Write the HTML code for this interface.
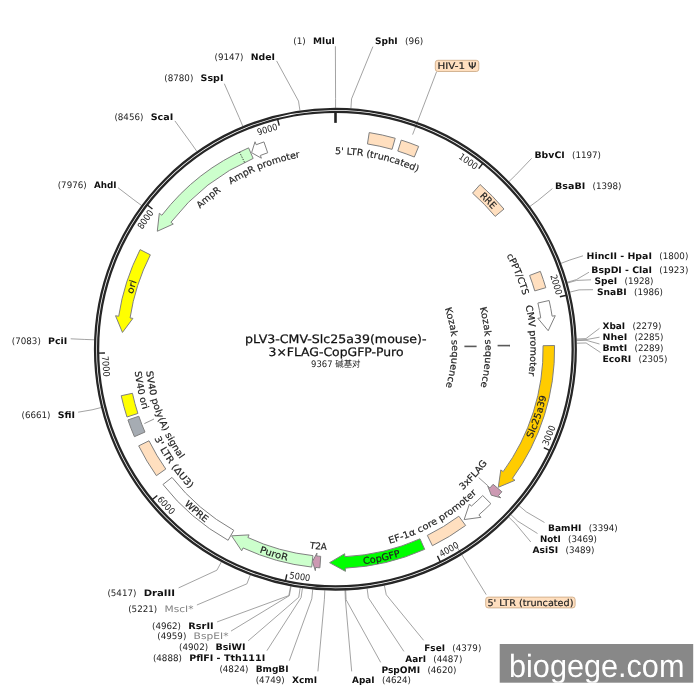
<!DOCTYPE html>
<html lang="en"><head><meta charset="utf-8"><title>pLV3-CMV-Slc25a39(mouse)-3xFLAG-CopGFP-Puro</title><style>
html,body{margin:0;padding:0;background:#fff;}
body{width:700px;height:700px;overflow:hidden;}
svg{display:block;will-change:transform;text-rendering:geometricPrecision;}
.lab{font-family:"DejaVu Sans","Liberation Sans",sans-serif;stroke:#222;stroke-width:0.18px;}
.tick{font-family:"DejaVu Sans Condensed","DejaVu Sans","Liberation Sans",sans-serif;fill:#222;}
.enz{font-family:"DejaVu Sans","Liberation Sans",sans-serif;font-size:9px;}
.ttl{font-family:"DejaVu Sans","Liberation Sans",sans-serif;fill:#111;stroke:#111;stroke-width:0.25px;}
.sub{font-family:"DejaVu Sans","Liberation Sans","Noto Sans CJK SC",sans-serif;fill:#222;}
.wm{font-family:"Liberation Sans",sans-serif;}
</style></head><body>
<svg width="700" height="700" viewBox="0 0 700 700">
<rect width="700" height="700" fill="#fff"/>
<path d="M335.56 107.80 L335.57 98.35 L335.40 46.30" fill="none" stroke="#8c8c8c" stroke-width="0.8"/>
<path d="M350.93 108.30 L351.54 98.87 L372.90 46.60" fill="none" stroke="#8c8c8c" stroke-width="0.8"/>
<path d="M509.02 181.51 L515.82 174.94 L531.60 158.40" fill="none" stroke="#8c8c8c" stroke-width="0.8"/>
<path d="M529.98 206.37 L537.60 200.78 L552.40 188.60" fill="none" stroke="#8c8c8c" stroke-width="0.8"/>
<path d="M560.99 263.36 L569.82 260.00 L583.00 255.80" fill="none" stroke="#8c8c8c" stroke-width="0.8"/>
<path d="M567.29 282.25 L576.37 279.63 L589.00 272.20" fill="none" stroke="#8c8c8c" stroke-width="0.8"/>
<path d="M567.51 283.02 L576.60 280.43 L591.00 279.80" fill="none" stroke="#8c8c8c" stroke-width="0.8"/>
<path d="M569.91 292.10 L579.09 289.87 L593.00 289.70" fill="none" stroke="#8c8c8c" stroke-width="0.8"/>
<path d="M576.54 338.99 L585.98 338.60 L599.50 328.30" fill="none" stroke="#8c8c8c" stroke-width="0.8"/>
<path d="M576.58 339.96 L586.02 339.61 L599.50 337.20" fill="none" stroke="#8c8c8c" stroke-width="0.8"/>
<path d="M576.60 340.61 L586.04 340.28 L599.50 344.00" fill="none" stroke="#8c8c8c" stroke-width="0.8"/>
<path d="M576.68 343.20 L586.12 342.97 L600.50 352.50" fill="none" stroke="#8c8c8c" stroke-width="0.8"/>
<path d="M519.09 505.70 L526.28 511.83 L544.50 522.50" fill="none" stroke="#8c8c8c" stroke-width="0.8"/>
<path d="M510.98 514.74 L517.86 521.23 L537.50 533.50" fill="none" stroke="#8c8c8c" stroke-width="0.8"/>
<path d="M508.74 517.08 L515.53 523.66 L530.80 542.00" fill="none" stroke="#8c8c8c" stroke-width="0.8"/>
<path d="M384.35 585.48 L386.27 594.74 L423.60 640.30" fill="none" stroke="#8c8c8c" stroke-width="0.8"/>
<path d="M367.12 588.41 L368.36 597.77 L403.90 651.40" fill="none" stroke="#8c8c8c" stroke-width="0.8"/>
<path d="M345.68 590.28 L346.08 599.72 L380.70 662.40" fill="none" stroke="#8c8c8c" stroke-width="0.8"/>
<path d="M345.03 590.31 L345.41 599.75 L351.70 671.40" fill="none" stroke="#8c8c8c" stroke-width="0.8"/>
<path d="M324.80 590.27 L324.38 599.71 L317.90 671.40" fill="none" stroke="#8c8c8c" stroke-width="0.8"/>
<path d="M312.69 589.43 L311.80 598.84 L289.30 660.70" fill="none" stroke="#8c8c8c" stroke-width="0.8"/>
<path d="M302.40 588.23 L301.10 597.59 L266.90 650.70" fill="none" stroke="#8c8c8c" stroke-width="0.8"/>
<path d="M300.15 587.91 L298.77 597.26 L248.20 640.80" fill="none" stroke="#8c8c8c" stroke-width="0.8"/>
<path d="M291.05 586.39 L289.32 595.68 L231.00 631.10" fill="none" stroke="#8c8c8c" stroke-width="0.8"/>
<path d="M290.57 586.30 L288.82 595.59 L217.10 621.90" fill="none" stroke="#8c8c8c" stroke-width="0.8"/>
<path d="M250.26 574.98 L246.92 583.82 L196.90 605.00" fill="none" stroke="#8c8c8c" stroke-width="0.8"/>
<path d="M221.39 561.87 L216.92 570.20 L178.60 587.90" fill="none" stroke="#8c8c8c" stroke-width="0.8"/>
<path d="M101.22 407.53 L92.05 409.82 L78.10 412.20" fill="none" stroke="#8c8c8c" stroke-width="0.8"/>
<path d="M94.23 339.80 L84.79 339.44 L70.70 338.80" fill="none" stroke="#8c8c8c" stroke-width="0.8"/>
<path d="M141.49 205.45 L133.90 199.83 L118.00 187.70" fill="none" stroke="#8c8c8c" stroke-width="0.8"/>
<path d="M196.92 151.48 L191.50 143.74 L174.90 120.90" fill="none" stroke="#8c8c8c" stroke-width="0.8"/>
<path d="M242.81 126.27 L239.18 117.54 L224.30 83.70" fill="none" stroke="#8c8c8c" stroke-width="0.8"/>
<path d="M299.91 110.42 L298.52 101.08 L276.60 60.90" fill="none" stroke="#8c8c8c" stroke-width="0.8"/>
<path d="M436.60 71.70 L412.60 134.60" fill="none" stroke="#8c8c8c" stroke-width="0.8"/>
<path d="M486.20 594.60 L456.60 546.30" fill="none" stroke="#8c8c8c" stroke-width="0.8"/>
<circle cx="335.4" cy="349.15" r="240.35" fill="none" stroke="#262626" stroke-width="2.3"/>
<circle cx="335.4" cy="349.15" r="237.3" fill="none" stroke="#262626" stroke-width="2.3"/>
<line x1="335.5" y1="111.84999999999997" x2="335.5" y2="122.84999999999997" stroke="#222" stroke-width="2.6"/>
<line x1="482.90" y1="163.26" x2="478.68" y2="168.59" stroke="#222" stroke-width="1.4"/>
<text class="tick" font-size="9.2" text-anchor="middle" textLength="20.8" lengthAdjust="spacingAndGlyphs" transform="translate(466.52 163.97) rotate(35.30)">1000</text>
<line x1="566.49" y1="295.23" x2="559.87" y2="296.77" stroke="#222" stroke-width="1.4"/>
<text class="tick" font-size="9.2" text-anchor="middle" textLength="20.8" lengthAdjust="spacingAndGlyphs" transform="translate(553.22 285.60) rotate(73.73)">2000</text>
<line x1="549.94" y1="450.56" x2="543.79" y2="447.65" stroke="#222" stroke-width="1.4"/>
<text class="tick" font-size="9.2" text-anchor="middle" textLength="20.8" lengthAdjust="spacingAndGlyphs" transform="translate(551.79 436.62) rotate(292.01)">3000</text>
<line x1="440.42" y1="561.94" x2="437.42" y2="555.85" stroke="#222" stroke-width="1.4"/>
<text class="tick" font-size="9.2" text-anchor="middle" textLength="20.8" lengthAdjust="spacingAndGlyphs" transform="translate(450.54 552.17) rotate(330.44)">4000</text>
<line x1="285.40" y1="581.12" x2="286.83" y2="574.47" stroke="#222" stroke-width="1.4"/>
<text class="tick" font-size="9.2" text-anchor="middle" textLength="20.8" lengthAdjust="spacingAndGlyphs" transform="translate(299.39 579.76) rotate(368.87)">5000</text>
<line x1="152.04" y1="499.78" x2="157.29" y2="495.47" stroke="#222" stroke-width="1.4"/>
<text class="tick" font-size="9.2" text-anchor="middle" textLength="20.8" lengthAdjust="spacingAndGlyphs" transform="translate(163.85 507.41) rotate(407.31)">6000</text>
<line x1="98.13" y1="353.17" x2="104.93" y2="353.05" stroke="#222" stroke-width="1.4"/>
<text class="tick" font-size="9.2" text-anchor="middle" textLength="20.8" lengthAdjust="spacingAndGlyphs" transform="translate(102.64 366.49) rotate(445.74)">7000</text>
<line x1="147.04" y1="204.81" x2="152.44" y2="208.95" stroke="#222" stroke-width="1.4"/>
<text class="tick" font-size="9.2" text-anchor="middle" textLength="20.8" lengthAdjust="spacingAndGlyphs" transform="translate(148.03 221.18) rotate(304.33)">8000</text>
<line x1="277.57" y1="119.00" x2="279.23" y2="125.60" stroke="#222" stroke-width="1.4"/>
<text class="tick" font-size="9.2" text-anchor="middle" textLength="20.8" lengthAdjust="spacingAndGlyphs" transform="translate(268.17 132.44) rotate(342.76)">9000</text>
<path d="M369.23 132.58 A219.20 219.20 0 0 1 395.21 138.27 L392.07 149.33 A207.70 207.70 0 0 0 367.45 143.94 Z" fill="#FFDFBF" stroke="#808080" stroke-width="1.0" stroke-linejoin="miter" />
<path d="M401.27 140.08 A219.20 219.20 0 0 1 418.68 146.39 L414.31 157.02 A207.70 207.70 0 0 0 397.81 151.05 Z" fill="#FFDFBF" stroke="#808080" stroke-width="1.0" stroke-linejoin="miter" />
<path d="M480.12 184.51 A219.20 219.20 0 0 1 503.98 209.04 L495.14 216.39 A207.70 207.70 0 0 0 472.52 193.15 Z" fill="#FFDFBF" stroke="#808080" stroke-width="1.0" stroke-linejoin="miter" />
<path d="M540.34 271.37 A219.20 219.20 0 0 1 545.80 287.68 L534.77 290.90 A207.70 207.70 0 0 0 529.59 275.45 Z" fill="#FFDFBF" stroke="#808080" stroke-width="1.0" stroke-linejoin="miter" />
<path d="M549.13 300.49 A219.20 219.20 0 0 1 552.11 316.18 L555.27 315.70 L548.20 330.73 L537.87 318.34 L540.74 317.91 A207.70 207.70 0 0 0 537.92 303.04 Z" fill="#FFFFFF" stroke="#808080" stroke-width="1.0" stroke-linejoin="miter" />
<path d="M554.57 345.51 A219.20 219.20 0 0 1 512.43 478.42 L515.01 480.30 L498.34 487.27 L500.80 469.92 L503.14 471.63 A207.70 207.70 0 0 0 543.07 345.70 Z" fill="#FFCC00" stroke="#808080" stroke-width="1.0" stroke-linejoin="miter" />
<path d="M501.85 491.78 A219.20 219.20 0 0 1 498.45 495.65 L500.83 497.79 L491.28 495.18 L487.74 486.03 L489.90 487.96 A207.70 207.70 0 0 0 493.11 484.30 Z" fill="#CC99B2" stroke="#808080" stroke-width="1.0" stroke-linejoin="miter" />
<path d="M490.88 503.67 A219.20 219.20 0 0 1 478.86 514.88 L480.96 517.30 L464.15 519.58 L469.44 504.00 L471.33 506.19 A207.70 207.70 0 0 0 482.72 495.56 Z" fill="#FFFFFF" stroke="#808080" stroke-width="1.0" stroke-linejoin="miter" />
<path d="M465.64 525.46 A219.20 219.20 0 0 1 432.41 545.71 L427.32 535.40 A207.70 207.70 0 0 0 458.81 516.21 Z" fill="#FFDFBF" stroke="#808080" stroke-width="1.0" stroke-linejoin="miter" />
<path d="M424.70 549.34 A219.20 219.20 0 0 1 345.32 568.13 L345.46 571.32 L329.60 562.67 L344.67 553.74 L344.80 556.64 A207.70 207.70 0 0 0 420.01 538.83 Z" fill="#00FF00" stroke="#808080" stroke-width="1.0" stroke-linejoin="miter" />
<path d="M319.90 567.80 A219.20 219.20 0 0 1 315.63 567.46 L315.34 570.64 L312.45 561.51 L316.93 553.12 L316.67 556.00 A207.70 207.70 0 0 0 320.71 556.33 Z" fill="#CC99B2" stroke="#808080" stroke-width="1.0" stroke-linejoin="miter" />
<path d="M311.70 567.07 A219.20 219.20 0 0 1 243.02 547.93 L241.68 550.84 L231.60 535.83 L249.09 534.88 L247.87 537.51 A207.70 207.70 0 0 0 312.94 555.63 Z" fill="#CCFFCC" stroke="#808080" stroke-width="1.0" stroke-linejoin="miter" />
<path d="M228.11 540.30 A219.20 219.20 0 0 1 162.99 484.51 L172.03 477.41 A207.70 207.70 0 0 0 233.74 530.27 Z" fill="#FFFFFF" stroke="#808080" stroke-width="1.0" stroke-linejoin="miter" />
<path d="M156.40 475.67 A219.20 219.20 0 0 1 138.69 445.87 L149.01 440.79 A207.70 207.70 0 0 0 165.79 469.03 Z" fill="#FFDFBF" stroke="#808080" stroke-width="1.0" stroke-linejoin="miter" />
<path d="M134.43 436.66 A219.20 219.20 0 0 1 127.95 419.94 L138.83 416.23 A207.70 207.70 0 0 0 144.97 432.07 Z" fill="#A6ACB3" stroke="#808080" stroke-width="1.0" stroke-linejoin="miter" />
<path d="M126.97 417.01 A219.20 219.20 0 0 1 121.21 395.73 L132.44 393.29 A207.70 207.70 0 0 0 137.90 413.45 Z" fill="#FFFF00" stroke="#808080" stroke-width="1.0" stroke-linejoin="miter" />
<path d="M140.11 249.61 A219.20 219.20 0 0 0 118.69 316.23 L115.52 315.75 L122.45 332.44 L132.92 318.39 L130.06 317.96 A207.70 207.70 0 0 1 150.35 254.83 Z" fill="#FFFF00" stroke="#808080" stroke-width="1.0" stroke-linejoin="miter" />
<path d="M248.60 147.87 A219.20 219.20 0 0 0 161.86 215.24 L159.32 213.29 L157.29 231.24 L173.26 224.04 L170.96 222.27 A207.70 207.70 0 0 1 253.15 158.43 Z" fill="#CCFFCC" stroke="#808080" stroke-width="1.0" stroke-linejoin="miter" />
<line x1="244.54" y1="162.38" x2="239.51" y2="152.04" stroke="#222" stroke-width="0.9" stroke-dasharray="1.3 1.3"/>
<path d="M263.95 141.92 A219.20 219.20 0 0 0 256.19 144.76 L255.03 141.78 L251.60 152.67 L261.39 158.19 L260.35 155.48 A207.70 207.70 0 0 1 267.70 152.79 Z" fill="#FFFFFF" stroke="#808080" stroke-width="1.0" stroke-linejoin="miter" />
<path id="p1" d="M305.06 156.53 A195.00 195.00 0 0 1 443.46 186.83" fill="none"/>
<text class="lab" font-size="9.3" fill="#222" ><textPath href="#p1" startOffset="50%" text-anchor="middle" textLength="85" lengthAdjust="spacingAndGlyphs">5' LTR (truncated)</textPath></text>
<path id="p2" d="M456.14 177.27 A210.05 210.05 0 0 1 510.56 233.21" fill="none"/>
<text class="lab" font-size="9.3" fill="#222" ><textPath href="#p2" startOffset="50%" text-anchor="middle" textLength="18.5" lengthAdjust="spacingAndGlyphs">RRE</textPath></text>
<path id="p3" d="M490.14 230.49 A195.00 195.00 0 0 1 528.85 324.65" fill="none"/>
<text class="lab" font-size="9.3" fill="#222" ><textPath href="#p3" startOffset="50%" text-anchor="middle" textLength="43" lengthAdjust="spacingAndGlyphs">cPPT/CTS</textPath></text>
<path id="p4" d="M516.63 277.18 A195.00 195.00 0 0 1 522.22 405.05" fill="none"/>
<text class="lab" font-size="9.3" fill="#222" ><textPath href="#p4" startOffset="50%" text-anchor="middle" textLength="70.4" lengthAdjust="spacingAndGlyphs">CMV promoter</textPath></text>
<path id="p5" d="M468.53 280.03 A150.00 150.00 0 0 1 470.18 415.00" fill="none"/>
<text class="lab" font-size="9.3" fill="#222" ><textPath href="#p5" startOffset="50%" text-anchor="middle" textLength="80" lengthAdjust="spacingAndGlyphs">Kozak sequence</textPath></text>
<path id="p6" d="M430.68 282.12 A116.50 116.50 0 0 1 432.29 413.83" fill="none"/>
<text class="lab" font-size="9.3" fill="#222" ><textPath href="#p6" startOffset="50%" text-anchor="middle" textLength="80" lengthAdjust="spacingAndGlyphs">Kozak sequence</textPath></text>
<path id="p7" d="M517.84 465.07 A216.15 216.15 0 0 0 550.85 366.48" fill="none"/>
<text class="lab" font-size="9.3" fill="#222" ><textPath href="#p7" startOffset="50%" text-anchor="middle" textLength="45" lengthAdjust="spacingAndGlyphs">Slc25a39</textPath></text>
<path id="p8" d="M439.02 508.41 A190.00 190.00 0 0 0 503.39 437.91" fill="none"/>
<text class="lab" font-size="9.3" fill="#222" ><textPath href="#p8" startOffset="50%" text-anchor="middle" textLength="36.5" lengthAdjust="spacingAndGlyphs">3xFLAG</textPath></text>
<path id="p9" d="M360.27 549.51 A201.90 201.90 0 0 0 496.57 470.76" fill="none"/>
<text class="lab" font-size="9.3" fill="#222" ><textPath href="#p9" startOffset="50%" text-anchor="middle" textLength="101.7" lengthAdjust="spacingAndGlyphs">EF-1α core promoter</textPath></text>
<path id="p10" d="M333.60 565.99 A216.85 216.85 0 0 0 428.48 545.01" fill="none"/>
<text class="lab" font-size="9.3" fill="#222" ><textPath href="#p10" startOffset="50%" text-anchor="middle" textLength="38" lengthAdjust="spacingAndGlyphs">CopGFP</textPath></text>
<path id="p11" d="M280.11 542.40 A201.00 201.00 0 0 0 356.65 549.02" fill="none"/>
<text class="lab" font-size="9.3" fill="#222" ><textPath href="#p11" startOffset="50%" text-anchor="middle" textLength="17.3" lengthAdjust="spacingAndGlyphs">T2A</textPath></text>
<path id="p12" d="M232.07 539.80 A216.85 216.85 0 0 0 316.72 565.19" fill="none"/>
<text class="lab" font-size="9.3" fill="#222" ><textPath href="#p12" startOffset="50%" text-anchor="middle" textLength="29" lengthAdjust="spacingAndGlyphs">PuroR</textPath></text>
<path id="p13" d="M164.03 482.03 A216.85 216.85 0 0 0 230.40 538.89" fill="none"/>
<text class="lab" font-size="9.3" fill="#222" ><textPath href="#p13" startOffset="50%" text-anchor="middle" textLength="28" lengthAdjust="spacingAndGlyphs">WPRE</textPath></text>
<path id="p14" d="M143.05 410.50 A201.90 201.90 0 0 0 211.96 508.92" fill="none"/>
<text class="lab" font-size="9.3" fill="#222" ><textPath href="#p14" startOffset="50%" text-anchor="middle" textLength="62" lengthAdjust="spacingAndGlyphs">3' LTR (ΔU3)</textPath></text>
<path id="p15" d="M145.05 341.47 A190.50 190.50 0 0 0 199.08 482.22" fill="none"/>
<text class="lab" font-size="9.3" fill="#222" ><textPath href="#p15" startOffset="50%" text-anchor="middle" textLength="95" lengthAdjust="spacingAndGlyphs">SV40 poly(A) signal</textPath></text>
<path id="p16" d="M133.64 341.59 A201.90 201.90 0 0 0 153.85 437.49" fill="none"/>
<text class="lab" font-size="9.3" fill="#222" ><textPath href="#p16" startOffset="50%" text-anchor="middle" textLength="39" lengthAdjust="spacingAndGlyphs">SV40 ori</textPath></text>
<path id="p17" d="M126.91 323.58 A210.05 210.05 0 0 1 148.31 253.66" fill="none"/>
<text class="lab" font-size="9.3" fill="#222" ><textPath href="#p17" startOffset="50%" text-anchor="middle" textLength="13.5" lengthAdjust="spacingAndGlyphs">ori</textPath></text>
<path id="p18" d="M180.14 231.16 A195.00 195.00 0 0 1 246.70 175.49" fill="none"/>
<text class="lab" font-size="9.3" fill="#222" ><textPath href="#p18" startOffset="50%" text-anchor="middle" textLength="27.5" lengthAdjust="spacingAndGlyphs">AmpR</textPath></text>
<path id="p19" d="M206.79 202.57 A195.00 195.00 0 0 1 329.97 154.23" fill="none"/>
<text class="lab" font-size="9.3" fill="#222" ><textPath href="#p19" startOffset="50%" text-anchor="middle" textLength="75" lengthAdjust="spacingAndGlyphs">AmpR promoter</textPath></text>
<path d="M497.60 345.60 L510.00 345.60" fill="none" stroke="#5a5a5a" stroke-width="1.6"/>
<path d="M464.40 346.40 L476.60 346.40" fill="none" stroke="#5a5a5a" stroke-width="1.6"/>
<path d="M478.70 477.60 L487.80 485.70" fill="none" stroke="#777" stroke-width="0.8"/>
<path d="M144.40 423.60 L154.00 419.00" fill="none" stroke="#777" stroke-width="0.8"/>
<text class="enz" x="293.3" y="43.7" fill="#222" textLength="12.5" lengthAdjust="spacingAndGlyphs">(1)</text>
<text class="enz" x="313.1" y="43.7" font-weight="bold" fill="#111" textLength="21.8" lengthAdjust="spacingAndGlyphs">MluI</text>
<text class="enz" x="374.9" y="43.7" font-weight="bold" fill="#111" textLength="22.8" lengthAdjust="spacingAndGlyphs">SphI</text>
<text class="enz" x="405.0" y="43.7" fill="#222" textLength="18.3" lengthAdjust="spacingAndGlyphs">(96)</text>
<text class="enz" x="534.5" y="157.8" font-weight="bold" fill="#111" textLength="30.2" lengthAdjust="spacingAndGlyphs">BbvCI</text>
<text class="enz" x="572.0" y="157.8" fill="#222" textLength="29.0" lengthAdjust="spacingAndGlyphs">(1197)</text>
<text class="enz" x="555" y="188.8" font-weight="bold" fill="#111" textLength="30.2" lengthAdjust="spacingAndGlyphs">BsaBI</text>
<text class="enz" x="592.5" y="188.8" fill="#222" textLength="29.0" lengthAdjust="spacingAndGlyphs">(1398)</text>
<text class="enz" x="586.5" y="258.5" font-weight="bold" fill="#111" textLength="65.5" lengthAdjust="spacingAndGlyphs">HincII - HpaI</text>
<text class="enz" x="659.3" y="258.5" fill="#222" textLength="29.0" lengthAdjust="spacingAndGlyphs">(1800)</text>
<text class="enz" x="591.3" y="272.5" font-weight="bold" fill="#111" textLength="60.7" lengthAdjust="spacingAndGlyphs">BspDI - ClaI</text>
<text class="enz" x="659.3" y="272.5" fill="#222" textLength="29.0" lengthAdjust="spacingAndGlyphs">(1923)</text>
<text class="enz" x="594.5" y="283.5" font-weight="bold" fill="#111" textLength="22.7" lengthAdjust="spacingAndGlyphs">SpeI</text>
<text class="enz" x="624.5" y="283.5" fill="#222" textLength="29.0" lengthAdjust="spacingAndGlyphs">(1928)</text>
<text class="enz" x="597" y="294.5" font-weight="bold" fill="#111" textLength="29.7" lengthAdjust="spacingAndGlyphs">SnaBI</text>
<text class="enz" x="634.0" y="294.5" fill="#222" textLength="29.0" lengthAdjust="spacingAndGlyphs">(1986)</text>
<text class="enz" x="602.5" y="328.8" font-weight="bold" fill="#111" textLength="22.7" lengthAdjust="spacingAndGlyphs">XbaI</text>
<text class="enz" x="632.5" y="328.8" fill="#222" textLength="29.0" lengthAdjust="spacingAndGlyphs">(2279)</text>
<text class="enz" x="602.5" y="339.8" font-weight="bold" fill="#111" textLength="24.7" lengthAdjust="spacingAndGlyphs">NheI</text>
<text class="enz" x="634.5" y="339.8" fill="#222" textLength="29.0" lengthAdjust="spacingAndGlyphs">(2285)</text>
<text class="enz" x="602.5" y="350.8" font-weight="bold" fill="#111" textLength="24.7" lengthAdjust="spacingAndGlyphs">BmtI</text>
<text class="enz" x="634.5" y="350.8" fill="#222" textLength="29.0" lengthAdjust="spacingAndGlyphs">(2289)</text>
<text class="enz" x="602.5" y="361.8" font-weight="bold" fill="#111" textLength="28.7" lengthAdjust="spacingAndGlyphs">EcoRI</text>
<text class="enz" x="638.5" y="361.8" fill="#222" textLength="29.0" lengthAdjust="spacingAndGlyphs">(2305)</text>
<text class="enz" x="548" y="530.5" font-weight="bold" fill="#111" textLength="33.4" lengthAdjust="spacingAndGlyphs">BamHI</text>
<text class="enz" x="588.7" y="530.5" fill="#222" textLength="29.0" lengthAdjust="spacingAndGlyphs">(3394)</text>
<text class="enz" x="540" y="541.5" font-weight="bold" fill="#111" textLength="20.7" lengthAdjust="spacingAndGlyphs">NotI</text>
<text class="enz" x="568.0" y="541.5" fill="#222" textLength="29.0" lengthAdjust="spacingAndGlyphs">(3469)</text>
<text class="enz" x="532.5" y="552.5" font-weight="bold" fill="#111" textLength="25.7" lengthAdjust="spacingAndGlyphs">AsiSI</text>
<text class="enz" x="565.5" y="552.5" fill="#222" textLength="29.0" lengthAdjust="spacingAndGlyphs">(3489)</text>
<text class="enz" x="424.3" y="650.6" font-weight="bold" fill="#111" textLength="20.7" lengthAdjust="spacingAndGlyphs">FseI</text>
<text class="enz" x="452.3" y="650.6" fill="#222" textLength="29.0" lengthAdjust="spacingAndGlyphs">(4379)</text>
<text class="enz" x="405.3" y="661.6" font-weight="bold" fill="#111" textLength="20.7" lengthAdjust="spacingAndGlyphs">AarI</text>
<text class="enz" x="433.3" y="661.6" fill="#222" textLength="29.0" lengthAdjust="spacingAndGlyphs">(4487)</text>
<text class="enz" x="381.4" y="672.5" font-weight="bold" fill="#111" textLength="38.7" lengthAdjust="spacingAndGlyphs">PspOMI</text>
<text class="enz" x="427.4" y="672.5" fill="#222" textLength="29.0" lengthAdjust="spacingAndGlyphs">(4620)</text>
<text class="enz" x="352.1" y="683.1" font-weight="bold" fill="#111" textLength="22.6" lengthAdjust="spacingAndGlyphs">ApaI</text>
<text class="enz" x="382.0" y="683.1" fill="#222" textLength="29.0" lengthAdjust="spacingAndGlyphs">(4624)</text>
<text class="enz" x="255.7" y="683.1" fill="#222" textLength="29.0" lengthAdjust="spacingAndGlyphs">(4749)</text>
<text class="enz" x="292.0" y="683.1" font-weight="bold" fill="#111" textLength="25.1" lengthAdjust="spacingAndGlyphs">XcmI</text>
<text class="enz" x="219.4" y="672.3" fill="#222" textLength="29.0" lengthAdjust="spacingAndGlyphs">(4824)</text>
<text class="enz" x="255.7" y="672.3" font-weight="bold" fill="#111" textLength="32.9" lengthAdjust="spacingAndGlyphs">BmgBI</text>
<text class="enz" x="152.9" y="661.4" fill="#222" textLength="29.0" lengthAdjust="spacingAndGlyphs">(4888)</text>
<text class="enz" x="189.2" y="661.4" font-weight="bold" fill="#111" textLength="76.0" lengthAdjust="spacingAndGlyphs">PflFI - Tth111I</text>
<text class="enz" x="179.1" y="650.3" fill="#222" textLength="29.0" lengthAdjust="spacingAndGlyphs">(4902)</text>
<text class="enz" x="215.4" y="650.3" font-weight="bold" fill="#111" textLength="30.2" lengthAdjust="spacingAndGlyphs">BsiWI</text>
<text class="enz" x="157.3" y="639.3" fill="#222" textLength="29.0" lengthAdjust="spacingAndGlyphs">(4959)</text>
<text class="enz" x="193.6" y="639.3" font-weight="normal" fill="#808080" textLength="34.9" lengthAdjust="spacingAndGlyphs">BspEI*</text>
<text class="enz" x="152.0" y="628.5" fill="#222" textLength="29.0" lengthAdjust="spacingAndGlyphs">(4962)</text>
<text class="enz" x="188.3" y="628.5" font-weight="bold" fill="#111" textLength="25.4" lengthAdjust="spacingAndGlyphs">RsrII</text>
<text class="enz" x="128.2" y="612.4" fill="#222" textLength="29.0" lengthAdjust="spacingAndGlyphs">(5221)</text>
<text class="enz" x="164.5" y="612.4" font-weight="normal" fill="#808080" textLength="29.0" lengthAdjust="spacingAndGlyphs">MscI*</text>
<text class="enz" x="107.4" y="596" fill="#222" textLength="29.0" lengthAdjust="spacingAndGlyphs">(5417)</text>
<text class="enz" x="143.7" y="596" font-weight="bold" fill="#111" textLength="31.4" lengthAdjust="spacingAndGlyphs">DraIII</text>
<text class="enz" x="21.5" y="418.4" fill="#222" textLength="29.0" lengthAdjust="spacingAndGlyphs">(6661)</text>
<text class="enz" x="57.8" y="418.4" font-weight="bold" fill="#111" textLength="17.3" lengthAdjust="spacingAndGlyphs">SfiI</text>
<text class="enz" x="11.8" y="343.9" fill="#222" textLength="29.0" lengthAdjust="spacingAndGlyphs">(7083)</text>
<text class="enz" x="48.1" y="343.9" font-weight="bold" fill="#111" textLength="19.2" lengthAdjust="spacingAndGlyphs">PciI</text>
<text class="enz" x="57.7" y="187.7" fill="#222" textLength="29.0" lengthAdjust="spacingAndGlyphs">(7976)</text>
<text class="enz" x="94.0" y="187.7" font-weight="bold" fill="#111" textLength="22.6" lengthAdjust="spacingAndGlyphs">AhdI</text>
<text class="enz" x="114.4" y="119.8" fill="#222" textLength="29.0" lengthAdjust="spacingAndGlyphs">(8456)</text>
<text class="enz" x="150.7" y="119.8" font-weight="bold" fill="#111" textLength="22.6" lengthAdjust="spacingAndGlyphs">ScaI</text>
<text class="enz" x="164.3" y="80.7" fill="#222" textLength="29.0" lengthAdjust="spacingAndGlyphs">(8780)</text>
<text class="enz" x="200.6" y="80.7" font-weight="bold" fill="#111" textLength="22.9" lengthAdjust="spacingAndGlyphs">SspI</text>
<text class="enz" x="214.5" y="59.5" fill="#222" textLength="29.0" lengthAdjust="spacingAndGlyphs">(9147)</text>
<text class="enz" x="250.8" y="59.5" font-weight="bold" fill="#111" textLength="24.3" lengthAdjust="spacingAndGlyphs">NdeI</text>
<rect x="435.3" y="60.3" width="43.5" height="11.2" rx="2.5" fill="#FFDFBF" stroke="#c9a680" stroke-width="0.8"/>
<text class="lab" font-size="9.3" x="457" y="68.7" text-anchor="middle" textLength="39" lengthAdjust="spacingAndGlyphs" fill="#222">HIV-1 Ψ</text>
<rect x="485.7" y="597.1" width="89.4" height="10.8" rx="2.5" fill="#FFDFBF" stroke="#c9a680" stroke-width="0.8"/>
<text class="lab" font-size="9.3" x="530.4" y="605.7" text-anchor="middle" textLength="86" lengthAdjust="spacingAndGlyphs" fill="#222">5' LTR (truncated)</text>
<text class="ttl" font-size="11.6" x="335.8" y="343.4" text-anchor="middle" textLength="181.5" lengthAdjust="spacingAndGlyphs">pLV3-CMV-Slc25a39(mouse)-</text>
<text class="ttl" font-size="11.6" x="336" y="356.1" text-anchor="middle" textLength="135" lengthAdjust="spacingAndGlyphs">3×FLAG-CopGFP-Puro</text>
<text class="sub" font-size="9" x="335.8" y="366.6" text-anchor="middle" textLength="49.5" lengthAdjust="spacingAndGlyphs">9367 碱基对</text>
<clipPath id="wmc"><rect x="499.7" y="644" width="193.5" height="38.7"/></clipPath>
<rect x="499.7" y="644" width="193.5" height="38.7" fill="#888888"/>
<text class="wm" x="509" y="677.4" font-size="32" fill="#fff" textLength="175.4" lengthAdjust="spacingAndGlyphs" clip-path="url(#wmc)">biogege.com</text>
</svg>
</body></html>
